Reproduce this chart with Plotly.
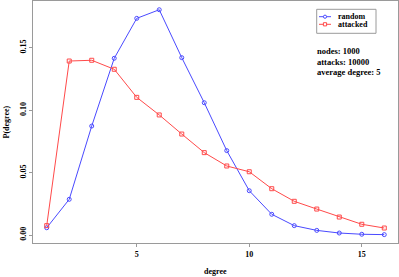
import plotly.graph_objects as go

degree = list(range(1, 17))
random_p = [0.0058, 0.0286, 0.0873, 0.1416, 0.1736, 0.1805, 0.1421, 0.1060,
            0.0676, 0.0355, 0.0166, 0.0075, 0.0037, 0.0016, 0.0006, 0.0003]
attacked_p = [0.0075, 0.1394, 0.1400, 0.1328, 0.1103, 0.0962, 0.0809, 0.0660,
              0.0553, 0.0507, 0.0371, 0.0270, 0.0208, 0.0144, 0.0086, 0.0056]
series_names = ["random", "attacked"]
info_lines = ["nodes: 1000", "attacks: 10000", "average degree: 5"]
x_ticks = [5, 10, 15]
y_ticks = [0.00, 0.05, 0.10, 0.15]

BLUE = "#4a4aff"
RED = "#ff4a4a"
GREY = "#9a9a9a"
FONT = "Liberation Serif"

fig = go.Figure()
fig.add_trace(go.Scatter(x=degree, y=random_p, mode="lines+markers", name=series_names[0],
                         line=dict(color=BLUE, width=1),
                         marker=dict(symbol="circle-open", size=4, color=BLUE, line=dict(width=1))))
fig.add_trace(go.Scatter(x=degree, y=attacked_p, mode="lines+markers", name=series_names[1],
                         line=dict(color=RED, width=1),
                         marker=dict(symbol="square-open", size=4, color=RED, line=dict(width=1))))

L, R, T, B = 33, 1, 1, 34
W, H = 399, 277
pw, ph = W - L - R, H - T - B

def px(x):
    return (x - L) / pw

def py(y):
    return (H - B - y) / ph

axis_font = dict(family=FONT, size=8, color="black")
fig.update_layout(
    width=W, height=H, margin=dict(l=L, r=R, t=T, b=B),
    paper_bgcolor="white", plot_bgcolor="white", showlegend=False,
    font=dict(family=FONT, size=8, color="black"),
    xaxis=dict(range=[0.39, 16.61], tickvals=x_ticks, ticktext=[f"<b>{v}</b>" for v in x_ticks],
               showgrid=False, zeroline=False, showline=True, mirror=True, linecolor=GREY,
               linewidth=1, ticks="outside", ticklen=3, tickcolor=GREY, tickfont=axis_font),
    yaxis=dict(range=[-0.0064, 0.1875], tickvals=y_ticks,
               ticktext=[f"<b>{v:.2f}</b>" for v in y_ticks], tickangle=-90,
               showgrid=False, zeroline=False, showline=True, mirror=True, linecolor=GREY,
               linewidth=1, ticks="outside", ticklen=3, tickcolor=GREY, tickfont=axis_font),
)

annotations = [
    dict(text="<b>degree</b>", xref="paper", yref="paper", x=0.5, y=py(271),
         showarrow=False, font=dict(family=FONT, size=8), xanchor="center", yanchor="middle"),
    dict(text="<b>P(degree)</b>", xref="paper", yref="paper", x=px(5.5), y=0.5, textangle=-90,
         showarrow=False, font=dict(family=FONT, size=8), xanchor="center", yanchor="middle"),
]
for i, t in enumerate(info_lines):
    annotations.append(dict(text=f"<b>{t}</b>", xref="paper", yref="paper", x=px(315),
                            y=py(51 + i * 10.5), showarrow=False, xanchor="left", yanchor="middle",
                            font=dict(family=FONT, size=8.5)))

# legend drawn manually to match R's compact legend
shapes = [dict(type="rect", xref="paper", yref="paper", x0=px(316.7), x1=px(376),
               y0=py(33.3), y1=py(9.3), line=dict(color=GREY, width=1), fillcolor="white")]
for i, (name, col, sym) in enumerate([(series_names[0], BLUE, "circle"),
                                      (series_names[1], RED, "rect")]):
    yy = 16.7 + i * 7.6
    shapes.append(dict(type="line", xref="paper", yref="paper", x0=px(319), x1=px(331),
                       y0=py(yy), y1=py(yy), line=dict(color=col, width=1)))
    shapes.append(dict(type=sym, xref="paper", yref="paper", xsizemode="pixel", ysizemode="pixel",
                       xanchor=px(325), yanchor=py(yy), x0=-1.6, x1=1.6, y0=-1.6, y1=1.6,
                       line=dict(color=col, width=1), fillcolor="white"))
    annotations.append(dict(text=f"<b>{name}</b>", xref="paper", yref="paper", x=px(336),
                            y=py(yy), showarrow=False, xanchor="left", yanchor="middle",
                            font=dict(family=FONT, size=8)))

fig.update_layout(annotations=annotations, shapes=shapes)
fig.write_html("out.html", config={"displayModeBar": False},
               post_script="document.body.style.margin='0px';")
